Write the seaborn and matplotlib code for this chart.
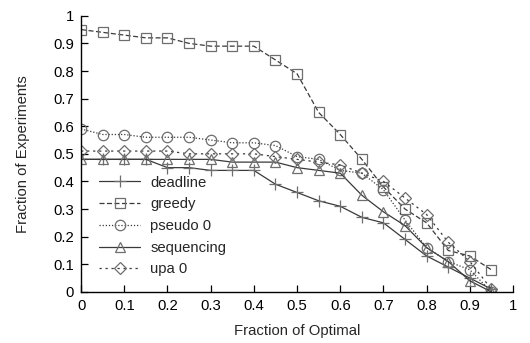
import numpy as np
import pandas as pd
import matplotlib
matplotlib.use("Agg")
import matplotlib.pyplot as plt
import seaborn as sns

# Fraction of optimal (x) for every series
fraction = [0.00, 0.05, 0.10, 0.15, 0.20, 0.25, 0.30, 0.35, 0.40, 0.45,
            0.50, 0.55, 0.60, 0.65, 0.70, 0.75, 0.80, 0.85, 0.90, 0.95]

deadline = [0.48, 0.48, 0.48, 0.48, 0.45, 0.45, 0.44, 0.44, 0.44, 0.39,
            0.36, 0.33, 0.31, 0.27, 0.25, 0.19, 0.13, 0.09, 0.05, 0.01]
greedy = [0.95, 0.94, 0.93, 0.92, 0.92, 0.90, 0.89, 0.89, 0.89, 0.84,
          0.79, 0.65, 0.57, 0.48, 0.38, 0.30, 0.25, 0.15, 0.13, 0.08]
pseudo0 = [0.59, 0.57, 0.57, 0.56, 0.56, 0.56, 0.55, 0.54, 0.54, 0.53,
           0.49, 0.48, 0.44, 0.43, 0.37, 0.26, 0.16, 0.11, 0.08, 0.00]
sequencing = [0.48, 0.48, 0.48, 0.48, 0.48, 0.48, 0.48, 0.47, 0.47, 0.47,
              0.45, 0.44, 0.43, 0.35, 0.29, 0.24, 0.16, 0.11, 0.04, 0.00]
upa0 = [0.51, 0.51, 0.51, 0.51, 0.51, 0.50, 0.50, 0.50, 0.50, 0.49,
        0.48, 0.47, 0.46, 0.43, 0.40, 0.34, 0.28, 0.18, 0.11, 0.01]

series_names = ["deadline", "greedy", "pseudo 0", "sequencing", "upa 0"]
series_values = [deadline, greedy, pseudo0, sequencing, upa0]

x_ticks = [0, 0.1, 0.2, 0.3, 0.4, 0.5, 0.6, 0.7, 0.8, 0.9, 1]
y_ticks = [0, 0.1, 0.2, 0.3, 0.4, 0.5, 0.6, 0.7, 0.8, 0.9, 1]

df = pd.DataFrame({
    "fraction": np.tile(fraction, len(series_names)),
    "experiments": np.concatenate(series_values),
    "series": np.repeat(series_names, len(fraction)),
})

sns.set_style("ticks")
plt.rcParams["font.family"] = ["Liberation Sans", "DejaVu Sans"]

styles = {
    "deadline":   dict(marker="+", dashes=(None, None), ms=9, ls="-"),
    "greedy":     dict(marker="s", dashes=(4, 2), ms=7.5, ls="--"),
    "pseudo 0":   dict(marker="o", dashes=(1, 1.5), ms=7.5, ls="--"),
    "sequencing": dict(marker="^", dashes=(None, None), ms=7.5, ls="-"),
    "upa 0":      dict(marker="D", dashes=(1.8, 3), ms=5.8, ls="--"),
}

fig = plt.figure(figsize=(5.30, 3.43), dpi=100)
ax = fig.add_axes([0.153, 0.149, 0.815, 0.805])

line_color = "#3a3a3a"
marker_color = "#6e6e6e"
fs = 10.7

for name in series_names:
    st = styles[name]
    sub = df[df["series"] == name]
    sns.lineplot(data=sub, x="fraction", y="experiments", ax=ax,
                 color=line_color, lw=0.9, label=name,
                 marker=st["marker"], markersize=st["ms"],
                 markerfacecolor="none", markeredgecolor=marker_color,
                 markeredgewidth=0.9, linestyle=st["ls"])
    line = ax.get_lines()[-1]
    if st["ls"] != "-":
        line.set_dashes(st["dashes"])

ax.set_xlim(0, 1)
ax.set_ylim(0, 1)
ax.set_xticks(x_ticks)
ax.set_yticks(y_ticks)
ax.set_xticklabels([f"{v:g}" for v in x_ticks])
ax.set_yticklabels([f"{v:g}" for v in y_ticks])
ax.tick_params(direction="in", length=5, width=0.9, labelsize=fs,
               colors="black", pad=5)
for side in ["left", "bottom"]:
    ax.spines[side].set_color("black")
    ax.spines[side].set_linewidth(1.0)
sns.despine(ax=ax)

ax.set_xlabel("Fraction of Optimal", fontsize=fs, labelpad=8)
ax.set_ylabel("Fraction of Experiments", fontsize=fs, labelpad=17)

leg = ax.legend(loc="upper left", bbox_to_anchor=(0.028, 0.443), frameon=False,
                fontsize=fs, handlelength=2.75, handletextpad=0.7,
                labelspacing=0.52, borderaxespad=0.0)
for h in leg.get_lines():
    h.set_linewidth(0.9)

fig.savefig("out.png", dpi=100)
